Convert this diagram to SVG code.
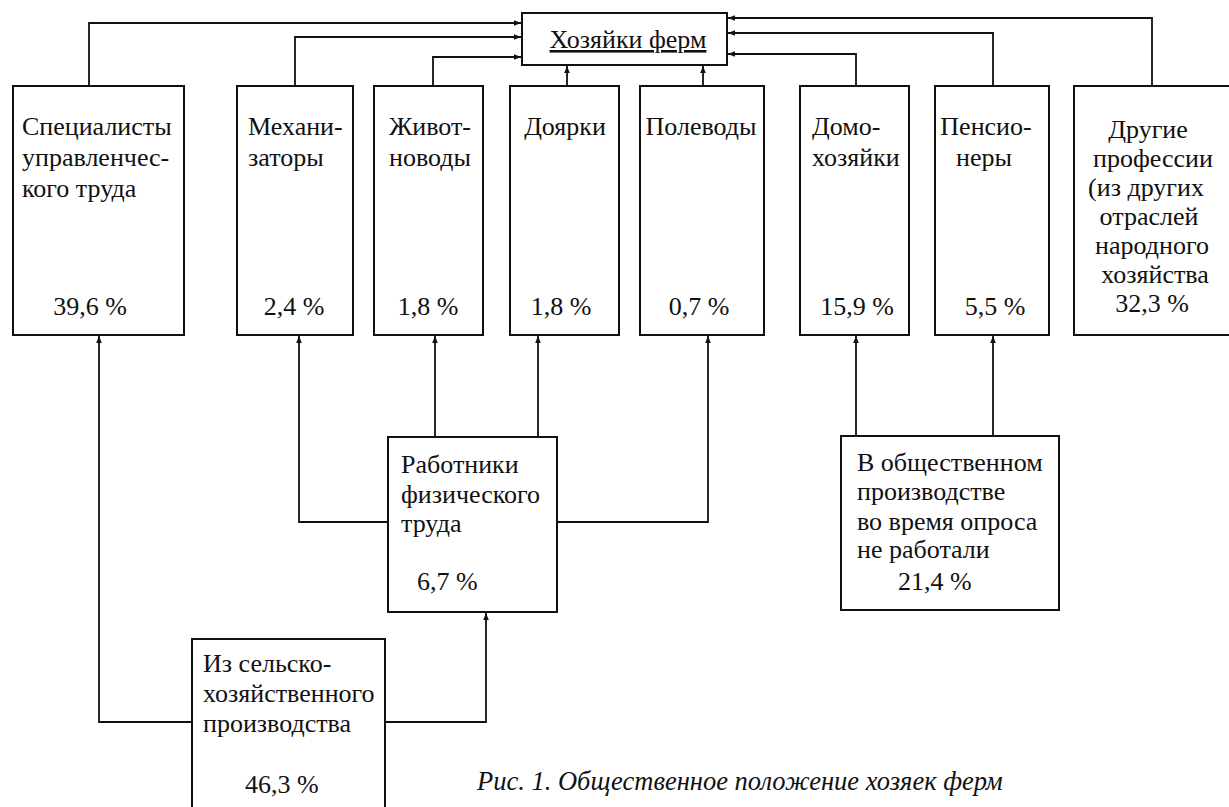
<svg xmlns="http://www.w3.org/2000/svg" width="1229" height="807" viewBox="0 0 1229 807">
<style>
.box{fill:none;stroke:#111;stroke-width:2}
.con{fill:none;stroke:#111;stroke-width:1.8}
.t{font-family:"Liberation Serif","Times New Roman",serif;font-size:26px;fill:#111}
.c{text-anchor:middle}
.cap{font-style:italic;font-size:26.5px}
</style>
<defs>
<marker id="ah" viewBox="0 0 10 10" refX="10" refY="5" markerWidth="7" markerHeight="7" markerUnits="userSpaceOnUse" orient="auto">
<path d="M0,1 L10,5 L0,9 z" fill="#111"/>
</marker>
</defs>
<rect width="1229" height="807" fill="#fff"/>

<g id="connectors">
<path class="con" marker-end="url(#ah)" d="M89 86 V23 H521"/>
<path class="con" marker-end="url(#ah)" d="M295 86 V37 H521"/>
<path class="con" marker-end="url(#ah)" d="M433 86 V57 H521"/>
<path class="con" marker-end="url(#ah)" d="M567 86 V66"/>
<path class="con" marker-end="url(#ah)" d="M703 86 V66"/>
<path class="con" marker-end="url(#ah)" d="M856 86 V54 H728"/>
<path class="con" marker-end="url(#ah)" d="M993 86 V33 H728"/>
<path class="con" marker-end="url(#ah)" d="M1152 86 V18 H728"/>
<path class="con" marker-end="url(#ah)" d="M388 522 H299 V336"/>
<path class="con" marker-end="url(#ah)" d="M435 437 V336"/>
<path class="con" marker-end="url(#ah)" d="M538 437 V336"/>
<path class="con" marker-end="url(#ah)" d="M557 522 H708 V336"/>
<path class="con" marker-end="url(#ah)" d="M192 722 H99 V336"/>
<path class="con" marker-end="url(#ah)" d="M385 722 H486 V613"/>
<path class="con" marker-end="url(#ah)" d="M856 436 V336"/>
<path class="con" marker-end="url(#ah)" d="M993 436 V336"/>
</g>

<g id="khozyaiki" class="t">
<rect class="box" x="522" y="13" width="205" height="52"/>
<text class="c" x="628" y="48" text-decoration="underline">Хозяйки ферм</text>
</g>

<g id="spetsialisty" class="t">
<rect class="box" x="13" y="86" width="171" height="249"/>
<text x="22" y="135">Специалисты</text>
<text x="22" y="166">управленчес-</text>
<text x="22" y="197">кого труда</text>
<text class="c" x="90" y="315">39,6 %</text>
</g>

<g id="mekhanizatory" class="t">
<rect class="box" x="237" y="86" width="116" height="249"/>
<text x="248" y="135">Механи-</text>
<text x="248" y="166">заторы</text>
<text class="c" x="294" y="315">2,4 %</text>
</g>

<g id="zhivotnovody" class="t">
<rect class="box" x="374" y="86" width="109" height="249"/>
<text x="389" y="135">Живот-</text>
<text x="389" y="166">новоды</text>
<text class="c" x="428" y="315">1,8 %</text>
</g>

<g id="doyarki" class="t">
<rect class="box" x="510" y="86" width="109" height="249"/>
<text class="c" x="565" y="135">Доярки</text>
<text class="c" x="561" y="315">1,8 %</text>
</g>

<g id="polevody" class="t">
<rect class="box" x="640" y="86" width="124" height="249"/>
<text class="c" x="701" y="135">Полеводы</text>
<text class="c" x="699" y="315">0,7 %</text>
</g>

<g id="domokhozyaiki" class="t">
<rect class="box" x="800" y="86" width="109" height="249"/>
<text x="812" y="135">Домо-</text>
<text x="812" y="166">хозяйки</text>
<text class="c" x="857" y="315">15,9 %</text>
</g>

<g id="pensionery" class="t">
<rect class="box" x="935" y="86" width="114" height="249"/>
<text class="c" x="986" y="135">Пенсио-</text>
<text class="c" x="984" y="166">неры</text>
<text class="c" x="995" y="315">5,5 %</text>
</g>

<g id="drugie" class="t">
<path class="box" d="M1230 86 H1074 V335 H1230"/>
<text class="c" x="1148" y="138">Другие</text>
<text class="c" x="1153" y="167">профессии</text>
<text class="c" x="1146" y="196">(из других</text>
<text class="c" x="1149" y="225">отраслей</text>
<text class="c" x="1152" y="254">народного</text>
<text class="c" x="1155" y="283">хозяйства</text>
<text class="c" x="1152" y="312">32,3 %</text>
</g>

<g id="rabotniki" class="t">
<rect class="box" x="388" y="437" width="169" height="175"/>
<text x="401" y="473">Работники</text>
<text x="401" y="503">физического</text>
<text x="401" y="532">труда</text>
<text x="417" y="590">6,7 %</text>
</g>

<g id="ne-rabotali" class="t">
<rect class="box" x="841" y="436" width="218" height="174"/>
<text x="857" y="471">В общественном</text>
<text x="857" y="500">производстве</text>
<text x="857" y="530">во время опроса</text>
<text x="857" y="558">не работали</text>
<text x="898" y="590">21,4 %</text>
</g>

<g id="iz-selskokhozyaistvennogo" class="t">
<path class="box" d="M192 810 V639 H385 V810"/>
<text x="203" y="672">Из сельско-</text>
<text x="203" y="702">хозяйственного</text>
<text x="203" y="732">производства</text>
<text x="245" y="793">46,3 %</text>
</g>

<g id="caption" class="t">
<text class="cap" x="477" y="790">Рис. 1. Общественное положение хозяек ферм</text>
</g>
</svg>
